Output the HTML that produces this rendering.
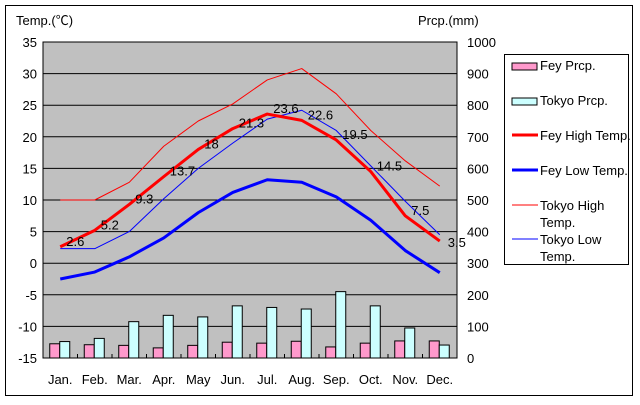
<!DOCTYPE html>
<html><head><meta charset="utf-8"><style>
body{margin:0;background:#fff;}
svg text{font-family:"Liberation Sans","Noto Sans CJK JP",sans-serif;font-size:13px;fill:#000;}
</style></head><body>
<svg id="chart" width="640" height="400" xmlns="http://www.w3.org/2000/svg">
<rect x="5.5" y="5.5" width="627" height="390" fill="#fff" stroke="#000"/>
<rect x="43" y="42" width="414" height="316" fill="#c0c0c0" stroke="#000"/>
<g id="grid"></g><g id="bars"></g><g id="lines"></g><g id="axes"></g>
<text x="16" y="25">Temp.(℃)</text>
<text x="418" y="25">Prcp.(mm)</text>
<g>
<rect x="504.5" y="54.5" width="124" height="210" fill="#fff" stroke="#000"/>
<rect x="512" y="63" width="25" height="7" fill="#ff99cc" stroke="#000"/>
<text x="540" y="70">Fey Prcp.</text>
<rect x="512" y="98" width="25" height="7" fill="#ccffff" stroke="#000"/>
<text x="540" y="105">Tokyo Prcp.</text>
<line x1="512" y1="135" x2="538" y2="135" stroke="#f00" stroke-width="3"/>
<text x="540" y="140">Fey High Temp.</text>
<line x1="512" y1="170" x2="538" y2="170" stroke="#00f" stroke-width="3"/>
<text x="540" y="175">Fey Low Temp.</text>
<line x1="512" y1="205" x2="538" y2="205" stroke="#f00" stroke-width="1"/>
<text x="540" y="210">Tokyo High</text><text x="540" y="227">Temp.</text>
<line x1="512" y1="239" x2="538" y2="239" stroke="#00f" stroke-width="1"/>
<text x="540" y="244">Tokyo Low</text><text x="540" y="261">Temp.</text>
</g>
</svg>
<script>
const months=["Jan.","Feb.","Mar.","Apr.","May","Jun.","Jul.","Aug.","Sep.","Oct.","Nov.","Dec."];
const feyHigh=[2.6,5.2,9.3,13.7,18,21.3,23.6,22.6,19.5,14.5,7.5,3.5];
const feyLow=[-2.5,-1.4,1,4,8,11.2,13.2,12.8,10.5,6.8,2,-1.5];
const tokyoHigh=[10,10,12.8,18.5,22.5,25.2,29,30.8,26.8,21,16.2,12.2];
const tokyoLow=[2.3,2.3,5,10.2,15,19,22.8,24.2,21,15.4,9.8,4.5];
const feyPrcp=[45,42,40,32,40,50,47,53,35,47,54,54];
const tokyoPrcp=[52,62,115,135,130,165,160,155,210,165,95,41];
const tempTicks=[35,30,25,20,15,10,5,0,-5,-10,-15];
const prcpTicks=[1000,900,800,700,600,500,400,300,200,100,0];
const NS="http://www.w3.org/2000/svg";
const L=43,R=457,T=42,B=358,W=(R-L)/12;
const xc=i=>L+W/2+i*W;
const yT=v=>B-(v+15)/50*(B-T);
const yP=v=>B-v/1000*(B-T);
function mk(tag,attrs,parent,txt){const e=document.createElementNS(NS,tag);for(const k in attrs)e.setAttribute(k,attrs[k]);if(txt!==undefined)e.textContent=txt;document.getElementById(parent).appendChild(e);return e;}
tempTicks.forEach((t,i)=>{
  const y=yT(t);
  if(t>-15&&t<35){const g=mk('line',{x1:L,x2:R,y1:y,y2:y,stroke:'#000'},'grid');
  
  }
  const a=mk('text',{x:37,y:y+5,'text-anchor':'end'},'axes',t);
  
  
});
prcpTicks.forEach(p=>{
  const b=mk('text',{x:467,y:yP(p)+5},'axes',p);
  
  
});
months.forEach((m,i)=>{
  const t=mk('text',{x:xc(i),y:384,'text-anchor':'middle'},'axes',m);
  
  
  const tk=mk('line',{x1:L+i*W,x2:L+i*W,y1:B,y2:B-4,stroke:'#000'},'axes');
  
  
  const b1=mk('rect',{x:xc(i)-10.5,y:yP(feyPrcp[i]),width:10,height:B-yP(feyPrcp[i]),fill:'#ff99cc',stroke:'#000'},'bars');
  
  
  const b2=mk('rect',{x:xc(i)-0.5,y:yP(tokyoPrcp[i]),width:10,height:B-yP(tokyoPrcp[i]),fill:'#ccffff',stroke:'#000'},'bars');
  
  
});
function line(data,color,w,name){
  const pts=data.map((v,i)=>xc(i)+','+yT(v)).join(' ');
  const p=mk('polyline',{points:pts,fill:'none',stroke:color,'stroke-width':w,'stroke-linejoin':'round'},'lines');
  
  
}
line(tokyoHigh,'#f00',1,'line-tokyo-high');
line(tokyoLow,'#00f',1,'line-tokyo-low');
line(feyLow,'#00f',3,'line-fey-low');
line(feyHigh,'#f00',3,'line-fey-high');
feyHigh.forEach((v,i)=>{
  const t=mk('text',{x:xc(i)+(i==11?8:6),y:yT(v)+(i==11?6:-1)},'lines',v);
  
  
});
</script>
</body></html>
